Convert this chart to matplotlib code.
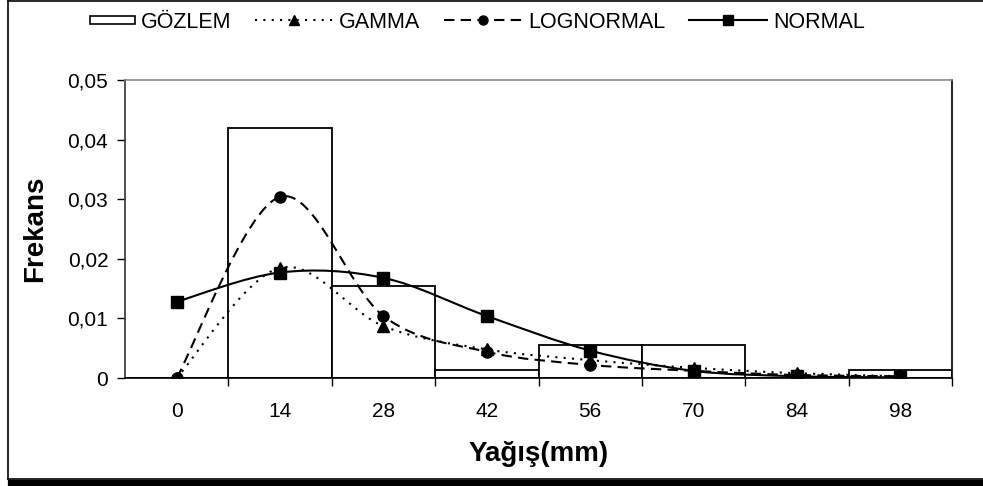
import numpy as np
import matplotlib
matplotlib.use("Agg")
from matplotlib import pyplot as plt
from matplotlib.path import Path
from matplotlib.patches import PathPatch, Rectangle
from matplotlib.lines import Line2D
from matplotlib.legend_handler import HandlerPatch
from matplotlib.ticker import FuncFormatter, FixedLocator

plt.rcParams['font.family'] = ['Liberation Sans', 'DejaVu Sans']

categories = ['0', '14', '28', '42', '56', '70', '84', '98']
gozlem = [0, 0.0420, 0.0154, 0.0014, 0.0056, 0.0056, 0, 0.0014]
gamma = [0, 0.0185, 0.0087, 0.0048, 0.0030, 0.0017, 0.0008, 0.0003]
lognormal = [0, 0.0304, 0.0104, 0.0044, 0.0022, 0.0012, 0.0005, 0.0003]
normal = [0.0128, 0.0177, 0.0168, 0.0104, 0.0046, 0.0012, 0.0003, 0.0001]


def smooth_path(xs, ys):
    # excel style smoothed line: bezier through each point
    pts = np.column_stack([xs, ys]).astype(float)
    n = len(pts)
    verts = [pts[0]]
    codes = [Path.MOVETO]
    for i in range(n - 1):
        p0 = pts[max(i - 1, 0)]
        p1 = pts[i]
        p2 = pts[i + 1]
        p3 = pts[min(i + 2, n - 1)]
        verts += [p1 + (p2 - p0) / 6, p2 - (p3 - p1) / 6, p2]
        codes += [Path.CURVE4] * 3
    return Path(verts, codes)


W, H = 983, 486
fig = plt.figure(figsize=(W / 100, H / 100), dpi=100)
ax = fig.add_axes([125 / W, 1 - 378 / H, (952 - 125) / W, (378 - 80) / H])

x = np.arange(len(categories))
ax.bar(x, gozlem, width=1.0, facecolor='white', edgecolor='black', linewidth=1.3, zorder=2)

styles = [
    (gamma, (0, (1, 3)), '^'),
    (lognormal, (0, (5, 3)), 'o'),
    (normal, '-', 's'),
]
for ys, ls, mk in styles:
    ax.add_patch(PathPatch(smooth_path(x, ys), fill=False, linestyle=ls,
                           linewidth=1.5, edgecolor='black', zorder=3))
    ax.plot(x, ys, linestyle='none', marker=mk, markersize=8,
            color='black', zorder=4)

ax.set_xlim(-0.5, len(categories) - 0.5)
ax.set_ylim(0, 0.05)
ax.set_yticks([0, 0.01, 0.02, 0.03, 0.04, 0.05])
ax.yaxis.set_major_formatter(FuncFormatter(
    lambda v, p: '0' if abs(v) < 1e-9 else f'{v:.2f}'.replace('.', ',')))
ax.set_xticks(x)
ax.set_xticklabels(categories)
ax.xaxis.set_minor_locator(FixedLocator(np.arange(0.5, len(categories), 1)))
ax.tick_params(axis='x', which='major', length=0, pad=17, labelsize=15)
ax.tick_params(axis='x', which='minor', length=6, width=1, direction='out')
ax.tick_params(axis='y', length=6, width=1, direction='out', pad=6, labelsize=15)

ax.spines['top'].set_color('#888888')
ax.spines['right'].set_color('black')
ax.spines['left'].set_color('#333333')
ax.spines['bottom'].set_color('black')
for s in ax.spines.values():
    s.set_linewidth(1.2)

ax.set_xlabel('Yağış(mm)', fontsize=20, fontweight='bold', labelpad=15)
ax.set_ylabel('Frekans', fontsize=20, fontweight='bold', labelpad=14)


def small_rect(legend, orig_handle, xdescent, ydescent, width, height, fontsize):
    return Rectangle((-xdescent + width * 0.42, -ydescent + height * 0.2),
                     width * 0.58, height * 0.55)


handles = [
    Rectangle((0, 0), 1, 1, facecolor='white', edgecolor='black', linewidth=1.2),
    Line2D([], [], color='black', linestyle=(0, (1, 3)), linewidth=1.5,
           marker='^', markersize=6.5),
    Line2D([], [], color='black', linestyle=(0, (5, 3)), linewidth=1.5,
           marker='o', markersize=6.5),
    Line2D([], [], color='black', linestyle='-', linewidth=1.5,
           marker='s', markersize=6.5),
]
labels = ['GÖZLEM', 'GAMMA', 'LOGNORMAL', 'NORMAL']
fig.legend(handles, labels, loc='center', bbox_to_anchor=(461 / W, 1 - 22 / H),
           ncol=4, frameon=False, fontsize=15.5, handlelength=3.6,
           handletextpad=0.3, columnspacing=1.1, borderaxespad=0,
           handler_map={Rectangle: HandlerPatch(patch_func=small_rect)})

# outer chart frame with shadow at the bottom
px = lambda v: v / W
py = lambda v: 1 - v / H
fig.add_artist(Line2D([px(8), px(8)], [py(1), py(479)], color='black', linewidth=1.2))
fig.add_artist(Line2D([px(8), 1], [py(1), py(1)], color='black', linewidth=1.2))
fig.add_artist(Line2D([px(8), 1], [py(479), py(479)], color='black', linewidth=1.2))
fig.add_artist(Line2D([px(11), 1], [py(483), py(483)], color='black', linewidth=4.5))

fig.savefig('out.png', dpi=100)
